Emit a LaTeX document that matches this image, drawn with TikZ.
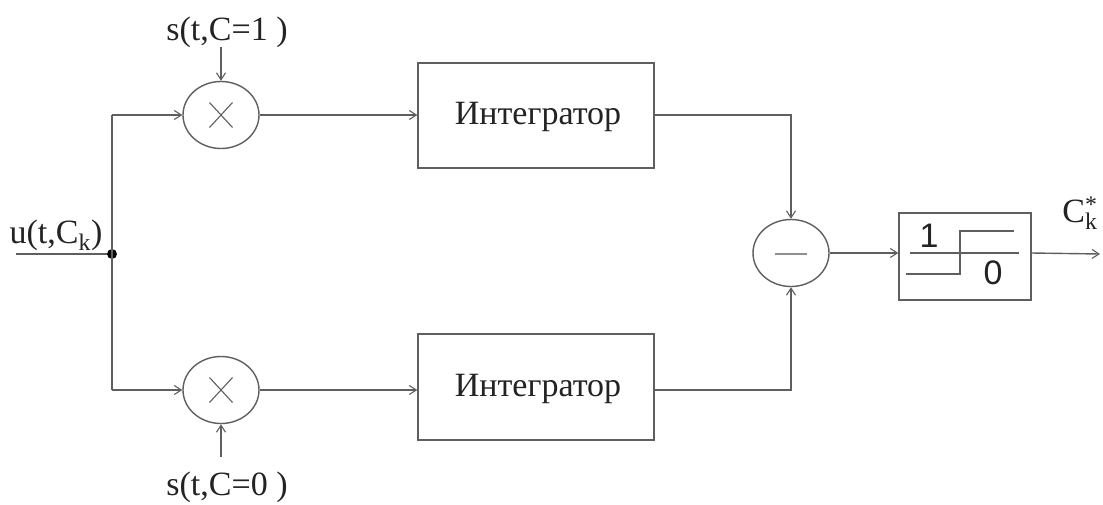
\documentclass[tikz,border=0pt]{standalone}
\usepackage{fontspec}
\setmainfont{Liberation Serif}
\newfontfamily\sansf{Liberation Sans}
\usetikzlibrary{shapes.geometric,arrows.meta,calc}
\definecolor{ln}{RGB}{95,95,95}
\definecolor{tx}{RGB}{35,35,35}
\begin{document}
\begin{tikzpicture}[x=1pt,y=-1pt,
  every path/.style={draw=ln,line width=1.4pt},
  arr/.style={-{Straight Barb[length=7pt,width=9pt,line width=1.1pt]}},
  oval/.style={ellipse,draw=ln,line width=1.4pt,minimum width=76pt,minimum height=67pt,inner sep=0pt},
  blk/.style={rectangle,draw=ln,line width=1.4pt,inner sep=0pt},
  lbl/.style={text=tx,font=\fontsize{34}{40}\selectfont,inner sep=0pt},
  dig/.style={text=tx,font=\sansf\fontsize{34}{40}\selectfont,inner sep=0pt}]
\useasboundingbox[fill=white,draw=none] (0,0) rectangle (1103,504);

% nodes
\node[oval] (m1) at (221,115) {};
\node[oval] (m2) at (221,390) {};
\node[oval] (sum) at (791,253) {};
\node[blk,minimum width=236pt,minimum height=105pt] (i1) at (536,115.5) {};
\node[blk,minimum width=236pt,minimum height=106pt] (i2) at (536,387) {};
\node[blk,minimum width=132pt,minimum height=87pt] (th) at (965,256.5) {};
\node[lbl] (t1) at (538,117) {Интегратор};
\node[lbl] (t2) at (538,389) {Интегратор};

\node[lbl,anchor=base] (s1) at (227,40) {s(t,C=1 )};
\node[lbl,anchor=base] (s0) at (227,495) {s(t,C=0 )};
\node[lbl,anchor=base] (u) at (56,243) {u(t,C\textsubscript{k})};
\node[lbl,anchor=base] (ck) at (1080,222) {C\rlap{\textsuperscript{*}}\textsubscript{k}};

\coordinate (in) at (16,254);
\coordinate (jn) at (112,254);
\coordinate (jt) at (112,115);
\coordinate (jb) at (112,390);
\coordinate (s1a) at (221,47);
\coordinate (s0a) at (221,457);
\coordinate (out) at (1100,254);

% symbols
\draw[line width=1.1pt] ($(m1)+(-11.5,-12.5)$) -- ($(m1)+(11.5,12.5)$) ($(m1)+(-11.5,12.5)$) -- ($(m1)+(11.5,-12.5)$);
\draw[line width=1.1pt] ($(m2)+(-11.5,-12.5)$) -- ($(m2)+(11.5,12.5)$) ($(m2)+(-11.5,12.5)$) -- ($(m2)+(11.5,-12.5)$);
\draw[line width=2pt,draw=ln!70] ($(sum)+(-16,1)$) -- ($(sum)+(16,1)$);

% threshold symbol
\draw (910,253) -- (1019,253);
\draw (906,274) -- (960,274) -- (960,231) -- (1014,231);
\node[dig] (one) at (929,235.5) {1};
\node[dig] (zero) at (993,273) {0};

% connectors
\draw (in) -- (jn);
\fill[black] (jn) circle (4.2pt);
\draw (jt) -- (jb);
\draw[arr] (jt) -- (m1.west);
\draw[arr] (jb) -- (m2.west);
\draw[arr] (s1a) -- (m1.north);
\draw[arr] (s0a) -- (m2.south);
\draw[arr] (m1.east) -- (m1.east -| i1.west);
\draw[arr] (m2.east) -- (m2.east -| i2.west);
\draw[arr] (i1.east |- m1) -| (sum.north);
\draw[arr] (i2.east |- m2) -| (sum.south);
\draw[arr] (sum.east) -- (sum.east -| th.west);
\draw[arr] (th.east |- sum.east) -- (out);
\end{tikzpicture}
\end{document}
